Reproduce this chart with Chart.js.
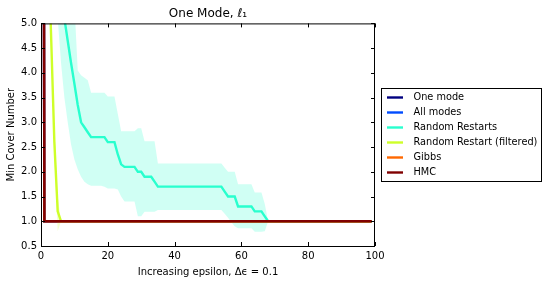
<!DOCTYPE html>
<html>
<head>
<meta charset="utf-8">
<script src="https://cdn.jsdelivr.net/npm/chart.js@4.4.1/dist/chart.umd.min.js"></script>
<style>
  html, body { margin: 0; padding: 0; background: #fff; }
  #wrap { width: 549px; height: 287px; }
</style>
</head>
<body>
<div id="wrap"><canvas id="chart" width="549" height="287"></canvas></div>
<script>
// step lines that sit on 1.0 after the first step
const flatX = [0, 1, 99];
const flatY = [40, 1, 1];

// Random Restarts: mean and band
const rrX = [5, 6, 7, 8, 9, 10, 11, 12, 13, 14, 15, 16, 17, 18, 19, 20, 21, 22, 23, 24,
    25, 26, 27, 28, 29, 30, 31, 32, 33, 34, 35, 36, 37, 38, 39, 40, 41, 42, 43, 44,
    45, 46, 47, 48, 49, 50, 51, 52, 53, 54, 55, 56, 57, 58, 59, 60, 61, 62, 63, 64,
    65, 66, 67, 68, 99];
const rrMean = [6.4, 5.6, 5.1, 4.65, 4.2, 3.78, 3.35, 3.0, 2.9, 2.8, 2.7, 2.7, 2.7, 2.7, 2.7, 2.6, 2.6, 2.6, 2.35, 2.15,
    2.1, 2.1, 2.1, 2.1, 2.0, 2.0, 1.9, 1.9, 1.9, 1.8, 1.7, 1.7, 1.7, 1.7, 1.7, 1.7, 1.7, 1.7, 1.7, 1.7,
    1.7, 1.7, 1.7, 1.7, 1.7, 1.7, 1.7, 1.7, 1.7, 1.7, 1.6, 1.5, 1.5, 1.5, 1.3, 1.3, 1.3, 1.3, 1.3, 1.2,
    1.2, 1.2, 1.1, 1.0, 1.0];
const rrUpper = [8.0, 7.5, 7.0, 6.5, 6.0, 5.4, 4.05, 3.95, 3.9, 3.85, 3.6, 3.6, 3.6, 3.6, 3.6, 3.52, 3.52, 3.52, 3.17, 2.82,
    2.82, 2.82, 2.82, 2.82, 2.88, 2.88, 2.62, 2.62, 2.62, 2.62, 2.17, 2.17, 2.17, 2.17, 2.17, 2.17, 2.17, 2.17, 2.17, 2.17,
    2.17, 2.17, 2.17, 2.17, 2.17, 2.17, 2.17, 2.17, 2.17, 2.17, 2.08, 2.0, 2.0, 2.0, 1.75, 1.75, 1.75, 1.75, 1.75, 1.58,
    1.58, 1.58, 1.35, 1.0, 1.0];
const rrLower = [5.1, 4.2, 3.5, 3.0, 2.55, 2.25, 2.05, 1.9, 1.8, 1.75, 1.72, 1.72, 1.72, 1.72, 1.7, 1.66, 1.66, 1.66, 1.64, 1.5,
    1.4, 1.4, 1.4, 1.4, 1.1, 1.1, 1.19, 1.19, 1.19, 1.19, 1.23, 1.23, 1.23, 1.23, 1.23, 1.23, 1.23, 1.23, 1.23, 1.23,
    1.23, 1.23, 1.23, 1.23, 1.23, 1.23, 1.23, 1.23, 1.23, 1.23, 1.15, 1.07, 0.98, 0.9, 0.86, 0.86, 0.86, 0.86, 0.86, 0.79,
    0.79, 0.79, 0.8, 1.0, 1.0];

// Random Restart (filtered)
const rfX = [2, 3, 4, 5, 6, 99];
const rfMean = [7.0, 4.8, 2.6, 1.2, 1.0, 1.0];
const rfUpper = [7.1, 4.9, 2.9, 1.5, 1.0, 1.0];
const rfLower = [6.9, 4.7, 2.3, 0.8, 1.0, 1.0];

const xTicks = [0, 20, 40, 60, 80, 100];
const yTicks = [0.5, 1.0, 1.5, 2.0, 2.5, 3.0, 3.5, 4.0, 4.5, 5.0];

const colors = {
    one: '#000080',
    all: '#004cff',
    rr: '#29ffce',
    rf: '#ceff29',
    gibbs: '#ff6800',
    hmc: '#800000'
};

function pts(xs, ys) {
    return xs.map((x, i) => ({ x: x, y: ys[i] }));
}

function line(label, xs, ys, color) {
    return {
        label: label,
        data: pts(xs, ys),
        borderColor: color,
        backgroundColor: color,
        borderWidth: 2.4,
        pointRadius: 0,
        fill: false,
        clip: 0
    };
}

function band(xs, ys, color, fillTo) {
    return {
        label: '',
        data: pts(xs, ys),
        borderWidth: 0,
        borderColor: 'rgba(0,0,0,0)',
        backgroundColor: color,
        pointRadius: 0,
        fill: fillTo,
        clip: 0
    };
}

const datasets = [
    line('One mode', flatX, flatY, colors.one),
    line('All modes', flatX, flatY, colors.all),
    band(rrX, rrUpper, 'rgba(41,255,206,0.22)', '+1'),
    band(rrX, rrLower, 'rgba(0,0,0,0)', false),
    line('Random Restarts', rrX, rrMean, colors.rr),
    band(rfX, rfUpper, 'rgba(206,255,41,0.22)', '+1'),
    band(rfX, rfLower, 'rgba(0,0,0,0)', false),
    line('Random Restart (filtered)', rfX, rfMean, colors.rf),
    line('Gibbs', flatX, flatY, colors.gibbs),
    line('HMC', flatX, flatY, colors.hmc)
];
// later datasets on top, like the plot order
datasets.forEach((d, i) => { d.order = datasets.length - i; });

// frame with inward ticks on all four sides
const frameTicks = {
    id: 'frameTicks',
    afterDraw(chart) {
        const { ctx, chartArea: a, scales: { x, y } } = chart;
        ctx.save();
        ctx.strokeStyle = '#000';
        ctx.lineWidth = 1;
        ctx.beginPath();
        xTicks.forEach(v => {
            const px = Math.round(x.getPixelForValue(v)) + 0.5;
            ctx.moveTo(px, a.bottom); ctx.lineTo(px, a.bottom - 4);
            ctx.moveTo(px, a.top); ctx.lineTo(px, a.top + 4);
        });
        yTicks.forEach(v => {
            const py = Math.round(y.getPixelForValue(v)) + 0.5;
            ctx.moveTo(a.left, py); ctx.lineTo(a.left + 4, py);
            ctx.moveTo(a.right, py); ctx.lineTo(a.right - 4, py);
        });
        ctx.stroke();
        ctx.strokeRect(a.left + 0.5, a.top + 0.5, a.right - a.left - 1, a.bottom - a.top);
        ctx.restore();
    }
};

// boxed legend outside the axes, on the right
const boxLegend = {
    id: 'boxLegend',
    afterDraw(chart) {
        const { ctx, chartArea: a } = chart;
        const items = chart.data.datasets.filter(d => d.label);
        const rowH = 15;
        const w = 160;
        const h = items.length * rowH + 3;
        const x0 = Math.round(a.right + 6) + 0.5;
        const y0 = Math.round((a.top + a.bottom) / 2 - h / 2) + 0.5;
        ctx.save();
        ctx.fillStyle = '#fff';
        ctx.fillRect(x0, y0, w, h);
        ctx.strokeStyle = '#000';
        ctx.lineWidth = 1;
        ctx.strokeRect(x0, y0, w, h);
        ctx.font = '9.75px "DejaVu Sans"';
        ctx.textBaseline = 'middle';
        ctx.textAlign = 'left';
        items.forEach((d, i) => {
            const cy = y0 + 1.5 + rowH / 2 + i * rowH;
            ctx.strokeStyle = d.borderColor;
            ctx.lineWidth = 2.4;
            ctx.beginPath();
            ctx.moveTo(x0 + 5.5, cy);
            ctx.lineTo(x0 + 21.5, cy);
            ctx.stroke();
            ctx.fillStyle = '#000';
            ctx.fillText(d.label, x0 + 32, cy);
        });
        ctx.restore();
    }
};

Chart.defaults.font.family = '"DejaVu Sans"';
Chart.defaults.color = '#000';

const chart = new Chart(document.getElementById('chart').getContext('2d'), {
    type: 'line',
    data: { datasets: datasets },
    options: {
        responsive: false,
        animation: false,
        devicePixelRatio: 1,
        layout: { padding: { left: 0, right: 174, top: 0, bottom: 0 } },
        plugins: {
            legend: { display: false },
            tooltip: { enabled: false },
            title: {
                display: true,
                text: 'One Mode, \u2113\u2081',
                fullSize: false,
                font: { size: 12, weight: 'normal' },
                padding: { top: 7, bottom: 2 }
            }
        },
        scales: {
            x: {
                type: 'linear',
                min: 0,
                max: 100,
                afterFit: (s) => { s.height = 41; },
                afterBuildTicks: (s) => { s.ticks = xTicks.map(v => ({ value: v })); },
                grid: { display: false, drawTicks: false },
                border: { display: false },
                ticks: { font: { size: 10 }, padding: 4, maxRotation: 0 },
                title: {
                    display: true,
                    text: 'Increasing epsilon, \u0394\u03f5 = 0.1',
                    font: { size: 10 },
                    padding: { top: 0, bottom: 8.5 }
                }
            },
            y: {
                min: 0.5,
                max: 5,
                afterFit: (s) => { s.width = 41; },
                afterBuildTicks: (s) => { s.ticks = yTicks.map(v => ({ value: v })); },
                grid: { display: false, drawTicks: false },
                border: { display: false },
                ticks: { font: { size: 10 }, padding: 4, callback: (v) => v.toFixed(1) },
                title: {
                    display: true,
                    text: 'Min Cover Number',
                    font: { size: 10 },
                    padding: { top: 5, bottom: 0 }
                }
            }
        }
    },
    plugins: [frameTicks, boxLegend]
});
</script>
</body>
</html>
